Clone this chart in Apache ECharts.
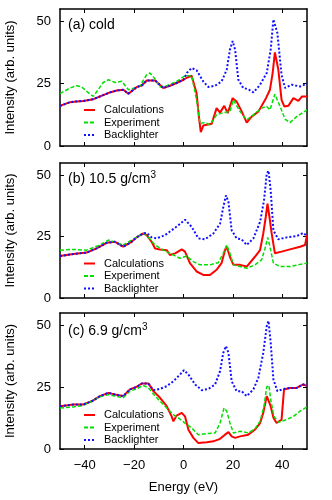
<!DOCTYPE html>
<html>
<head>
<meta charset="utf-8">
<script src="https://cdn.jsdelivr.net/npm/echarts@6/dist/echarts.min.js"></script>
<style>
    html, body {margin: 0; padding: 0; background: #fff;}
    #chart {width: 332px; height: 500px;}
</style>
</head>
<body>
<div id="chart"></div>
<script>
const legendNames = ['Calculations', 'Experiment', 'Backlighter'];
const energyTicks = [-40, -20, 0, 20, 40];
const intensityTicks = [0, 25, 50];

// (a) cold  -- calc and backlighter coincide below ~0 eV
const coldShared = [[-50, 16.1], [-45.9, 17.6], [-43.3, 17.9], [-40.5, 18.1], [-36.5, 18.8], [-32.5, 20.4], [-29.5, 21.6],
    [-27, 22.3], [-24.4, 22.6], [-22.3, 21], [-18.9, 23.7], [-16.9, 24.3], [-14.9, 26.3], [-11.5, 26.3], [-8.2, 23.3],
    [-5.5, 24.2], [-2.8, 25.3], [0, 26.6]];
const coldCalcTail = [[1.5, 27.5], [3.3, 28.2], [5.3, 21.2], [6.2, 12], [7.0, 5.6], [8.0, 8.2], [8.7, 8.5], [11.4, 8.9],
    [13.4, 15.2], [14.8, 13.4], [16.5, 16.1], [17.9, 13.2], [19.9, 19.2], [21.5, 17.9], [23.6, 13.8], [25.6, 9.4],
    [27.6, 11.8], [30.3, 13.8], [33.4, 19.2], [35, 22.6], [36.1, 29.3], [37, 37.6], [38.4, 30.6], [39.7, 18.5],
    [40.8, 15.9], [42.5, 16.2], [44.5, 19.2], [46.5, 18.1], [48, 19.9], [50, 19.9]];
const coldExp = [[-50, 21], [-45.9, 23.3], [-43.2, 24.2], [-41.2, 23.7], [-39.2, 21.9], [-36.5, 19.9], [-32.5, 25.5],
    [-30.4, 26.6], [-27.7, 25.5], [-25, 26], [-22.3, 22.6], [-19.6, 23.3], [-17.6, 24.2], [-14.9, 28.6], [-13.6, 29.3],
    [-11.5, 26.9], [-9.5, 23.7], [-6.8, 24.2], [-2.8, 25.9], [0.6, 28.2], [3.3, 28.2], [5.3, 18.5], [6.7, 9.1],
    [8.7, 9.4], [10.7, 8.5], [13.4, 12.5], [16.1, 13.4], [18.8, 13.8], [20.2, 18.5], [22.9, 13.8], [25.6, 10.5],
    [28.3, 12.5], [31.6, 15.2], [33.7, 15.9], [35, 14.5], [37, 20.8], [39.1, 15.9], [41.1, 10.8], [43.1, 9.4],
    [45.8, 11.8], [50, 14.5]];
const coldBackTail = [[1.5, 29.5], [3.3, 31.3], [5.3, 30.4], [8, 25.9], [10.1, 23.7], [12.8, 24.2], [15.4, 25.9],
    [17.5, 30.6], [18.8, 38.7], [19.9, 42.1], [20.9, 38.7], [22.2, 26.6], [24.2, 23.3], [26.2, 22.8], [28.3, 21.5],
    [31, 24.6], [33.7, 29.3], [35.3, 38.7], [36.4, 50.8], [37, 51.5], [38, 45.4], [39.7, 28.6], [41.1, 23.3],
    [43.8, 24.6], [47.2, 23.9], [50, 25]];

// (b) 10.5 g/cm3
const densShared = [[-50, 17.1], [-44.6, 17.9], [-39.2, 18.5], [-35.2, 20.2], [-31.1, 22.5], [-27.7, 22.9],
    [-24.4, 20.9], [-21, 22.9], [-19, 24.7], [-16.3, 26.3]];
const densCalcTail = [[-14.9, 25.6], [-12.9, 22.9], [-11.5, 20.2], [-9.5, 19.8], [-6.8, 19.5], [-5.5, 17.5],
    [-3.4, 18.2], [-0.7, 19.8], [0.6, 18.9], [2.6, 14.2], [5.3, 10.8], [8, 9.4], [10.7, 9.4], [13.4, 11.5],
    [15.4, 14.2], [16.8, 19.5], [17.5, 20.9], [18.8, 16.8], [20.2, 13.5], [22.9, 13.5], [25.6, 12.8], [28.9, 16.8],
    [31, 19.5], [32.3, 26.3], [33.3, 33], [34, 38.4], [34.8, 33], [35.7, 26.3], [37, 18.2], [39.7, 18.9],
    [43.1, 19.8], [47.2, 20.9], [49.2, 21.6], [50, 25.6]];
const densExp = [[-50, 19.5], [-44.6, 19.8], [-39.2, 19.5], [-33.8, 21.6], [-30.4, 23.6], [-27, 22.5], [-24.4, 21.6],
    [-21, 23.6], [-17.6, 25.6], [-16.3, 26.5], [-14.2, 24.7], [-11.5, 21.6], [-8.2, 19.5], [-4.1, 17.5], [-1.4, 16.2],
    [1.3, 17.1], [4, 14.8], [6.7, 13.5], [10.7, 13.5], [14.1, 14.4], [16.1, 18.2], [17.5, 21.6], [18.8, 18.2],
    [20.2, 13.5], [22.9, 12.8], [25.6, 12.1], [28.9, 13.5], [31.6, 15.5], [33, 20.2], [34.1, 24.7], [35, 20.9],
    [36.4, 14.2], [39.1, 12.8], [43.1, 12.8], [47.2, 13.7], [50, 14.2]];
const densBackTail = [[-14.9, 26.5], [-12.9, 24.7], [-10.9, 24.3], [-7.5, 25.6], [-4.8, 27.6], [-2.1, 29.6],
    [0.6, 31.9], [3.3, 29], [6, 24.3], [8.7, 23.9], [12.1, 26.3], [14.8, 30.3], [16.1, 37], [17.2, 41.8], [18.2, 39.1],
    [19.5, 27.6], [21.5, 24.3], [23.5, 23.9], [25.6, 21.6], [28.3, 24.3], [31, 31], [32.6, 39.8], [33.7, 50.5],
    [34.4, 51.9], [35.3, 43.8], [36.4, 27.6], [38.4, 23.9], [41.8, 24.7], [45.8, 25.2], [48.5, 26.5], [50, 25.2]];

// (c) 6.9 g/cm3
const lowShared = [[-50, 17.3], [-44.6, 18], [-40.6, 18], [-37.2, 19.3], [-33.8, 21.4], [-30.4, 22.7], [-27.7, 22],
    [-24.4, 21.4], [-21.7, 24.1], [-19, 25.1], [-16.9, 26.5], [-14.2, 26.5]];
const lowCalcTail = [[-12.2, 23.4], [-9.5, 20.7], [-6.8, 17.3], [-4.8, 13.2], [-4.1, 11.2], [-2.8, 13.5],
    [-0.7, 14.6], [0.6, 13.2], [2, 7.8], [4, 4.5], [6, 2.4], [9.4, 2.7], [12.1, 3.1], [14.8, 4.1], [16.8, 5.8],
    [18.2, 6.8], [19.5, 5.1], [20.9, 4.5], [22.9, 5.1], [26.2, 5.8], [28.9, 7.8], [31, 10.5], [32.3, 14.6],
    [33.7, 21.4], [34.4, 22], [35.3, 17.3], [36.4, 12.6], [37.7, 10.5], [39.7, 11.9], [40.4, 12.6], [40.7, 24.1],
    [43.1, 24.7], [45.8, 24.7], [48.5, 26.1], [50, 25.4]];
const lowExp = [[-50, 16.6], [-44.6, 17], [-40.6, 17.6], [-37.2, 19.3], [-33.8, 21.1], [-30.4, 22], [-27.7, 21.4],
    [-24.4, 20.7], [-21.7, 23.4], [-19, 24.3], [-16.3, 25.7], [-14.2, 24.7], [-11.5, 21.4], [-8.8, 18.6],
    [-6.1, 15.9], [-4.1, 13.9], [-2.1, 12.6], [0.6, 10.5], [3.3, 8.5], [6, 5.8], [9.4, 6.2], [12.8, 6.5],
    [14.8, 10.5], [16.4, 16.6], [17.5, 15.3], [18.8, 10.5], [20.2, 6.5], [22.9, 7.2], [26.2, 6.5], [28.9, 8.1],
    [31, 11.2], [32.6, 17.3], [33.7, 25.1], [34.6, 25.7], [35.3, 20], [36.6, 13.2], [38.4, 10.8], [41.8, 11.9],
    [44.5, 13.2], [47.2, 15.3], [50, 17]];
const lowBackTail = [[-12.2, 23.8], [-9.5, 24.3], [-6.8, 25.4], [-4.1, 27.4], [-1.4, 30.1], [0.2, 31.9], [2, 30.1],
    [4.7, 26.1], [7.4, 23.8], [10.1, 24.3], [12.8, 26.1], [14.8, 31.5], [16.1, 38.9], [17.2, 41.6], [18.2, 38.9],
    [19.5, 27.4], [21.5, 23.4], [23.5, 23.4], [25.6, 21.4], [28.3, 24.1], [30.3, 28.8], [32.3, 38.9], [33.7, 49.7],
    [34.4, 51.8], [35.3, 43], [36.4, 28.1], [38, 23.4], [40.4, 24.3], [43.1, 24.7], [45.8, 24.7], [48.5, 26.1],
    [50, 25.7]];

const panels = [
    {label: '{t|(a) cold}', lines: [coldShared.concat(coldCalcTail), coldExp, coldShared.concat(coldBackTail)]},
    {label: '{t|(b) 10.5 g/cm}{s|3}', lines: [densShared.concat(densCalcTail), densExp, densShared.concat(densBackTail)]},
    {label: '{t|(c) 6.9 g/cm}{s|3}', lines: [lowShared.concat(lowCalcTail), lowExp, lowShared.concat(lowBackTail)]}
];

const font = 'Liberation Sans';
const layout = [
    {top: 9, height: 137, titleTop: 16, legendTop: 104.5},
    {top: 163, height: 135, titleTop: 170, legendTop: 258},
    {top: 313, height: 136, titleTop: 322, legendTop: 409.5}
];
const lineStyles = [
    {color: '#ff0000', type: 'solid', width: 2},
    {color: '#00e000', type: [4, 2], width: 1.5},
    {color: '#1010ff', type: [2, 2], width: 2}
];

const chart = echarts.init(document.getElementById('chart'));
const grids = [], xAxes = [], yAxes = [], seriesList = [], titles = [], legends = [];
const frame = {onZero: false, lineStyle: {color: '#000', width: 1.5}};
const tickStyle = {lineStyle: {color: '#000', width: 1}};

panels.forEach((panel, i) => {
    const last = i === panels.length - 1;
    grids.push({left: 60, right: 25, top: layout[i].top, height: layout[i].height, outerBoundsMode: 'none'});

    xAxes.push({
        gridIndex: i, type: 'value', position: 'bottom', min: -50, max: 50,
        axisLine: frame,
        axisTick: {inside: true, length: 4, customValues: energyTicks, ...tickStyle},
        axisLabel: {
            show: last, customValues: energyTicks, margin: 10, fontSize: 13, color: '#000', fontFamily: font,
            formatter: v => String(v).replace('-', '\u2212')
        },
        splitLine: {show: false},
        name: last ? 'Energy (eV)' : '', nameLocation: 'middle', nameGap: 32,
        nameTextStyle: {fontSize: 13, color: '#000', fontFamily: font}
    });
    xAxes.push({
        gridIndex: i, type: 'value', position: 'top', min: -50, max: 50,
        axisLine: frame,
        axisTick: {inside: true, length: 4, customValues: energyTicks, ...tickStyle},
        axisLabel: {show: false},
        splitLine: {show: false}
    });
    yAxes.push({
        gridIndex: i, type: 'value', position: 'left', min: 0, max: 55,
        axisLine: frame,
        axisTick: {inside: true, length: 4, customValues: intensityTicks, ...tickStyle},
        axisLabel: {customValues: intensityTicks, margin: 9, fontSize: 13, color: '#000', fontFamily: font},
        splitLine: {show: false},
        name: 'Intensity (arb. units)', nameLocation: 'middle', nameGap: 43,
        nameTextStyle: {fontSize: 13, color: '#000', fontFamily: font}
    });
    yAxes.push({
        gridIndex: i, type: 'value', position: 'right', min: 0, max: 55,
        axisLine: frame,
        axisTick: {inside: true, length: 4, customValues: intensityTicks, ...tickStyle},
        axisLabel: {show: false},
        splitLine: {show: false}
    });

    titles.push({
        text: panel.label, left: 68, top: layout[i].titleTop, padding: 0,
        textStyle: {
            fontWeight: 'normal',
            rich: {
                t: {fontSize: 14, fontWeight: 'normal', color: '#000', fontFamily: font, lineHeight: 18},
                s: {fontSize: 10, fontWeight: 'normal', color: '#000', fontFamily: font, lineHeight: 18,
                    verticalAlign: 'top', padding: [0, 0, 6, 0]}
            }
        }
    });

    legends.push({
        data: legendNames, orient: 'vertical', left: 83, top: layout[i].legendTop, padding: 0,
        itemWidth: 11, itemHeight: 10, itemGap: 1.5, selectedMode: false,
        itemStyle: {opacity: 0, borderWidth: 0},
        textStyle: {fontSize: 11, color: '#000', fontFamily: font, padding: [0, 0, 0, 4]}
    });

    panel.lines.forEach((pts, k) => {
        seriesList.push({
            type: 'line', name: legendNames[k], xAxisIndex: 2 * i, yAxisIndex: 2 * i,
            data: pts, symbol: 'none', showSymbol: false, lineStyle: lineStyles[k],
            itemStyle: {color: lineStyles[k].color}, animation: false
        });
    });
});

chart.setOption({
    animation: false,
    title: titles,
    legend: legends,
    grid: grids,
    xAxis: xAxes,
    yAxis: yAxes,
    series: seriesList
});
</script>
</body>
</html>
